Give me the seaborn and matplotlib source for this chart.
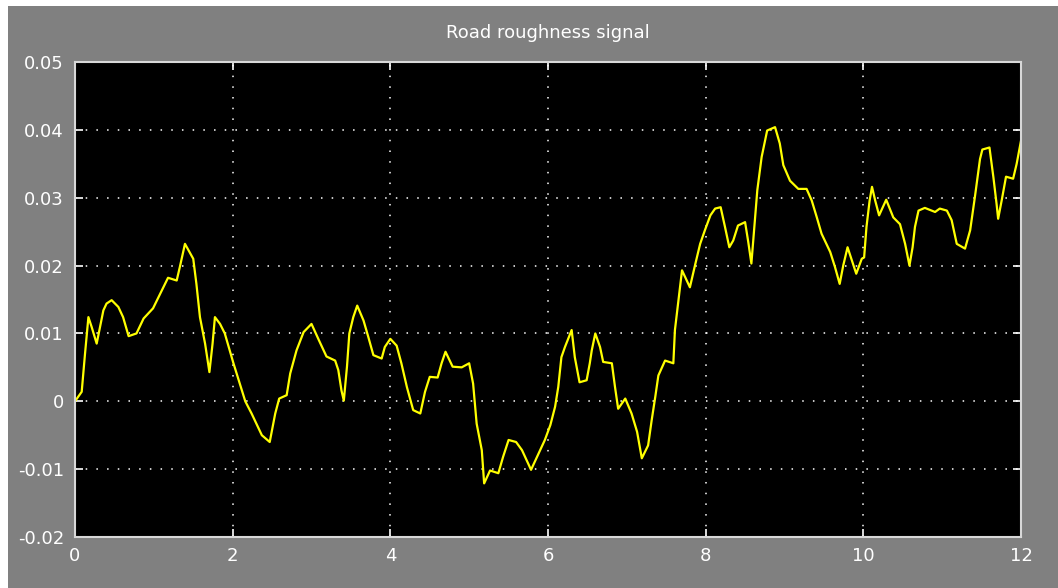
import numpy as np
import pandas as pd
import seaborn as sns
import matplotlib
matplotlib.use('Agg')
import matplotlib.pyplot as plt
from matplotlib.patches import Rectangle

# values
time_s = [0.0, 0.085, 0.127, 0.17, 0.21, 0.275, 0.36, 0.40, 0.465, 0.55,
          0.61, 0.68, 0.78, 0.87, 0.99, 1.10, 1.18, 1.29, 1.33, 1.395,
          1.50, 1.54, 1.585, 1.65, 1.705, 1.745, 1.775, 1.84, 1.90, 2.01,
          2.16, 2.24, 2.37, 2.47, 2.54, 2.59, 2.685, 2.73, 2.81, 2.90,
          3.00, 3.09, 3.19, 3.30, 3.34, 3.38, 3.41, 3.45, 3.48, 3.53,
          3.58, 3.66, 3.72, 3.785, 3.89, 3.93, 4.00, 4.08, 4.14, 4.21,
          4.29, 4.38, 4.44, 4.50, 4.60, 4.65, 4.70, 4.79, 4.905, 5.00,
          5.05, 5.095, 5.16, 5.19, 5.265, 5.37, 5.43, 5.50, 5.595, 5.67,
          5.785, 5.88, 5.96, 6.03, 6.09, 6.13, 6.17, 6.215, 6.30, 6.34,
          6.40, 6.49, 6.53, 6.555, 6.60, 6.66, 6.70, 6.81, 6.85, 6.89,
          6.98, 7.06, 7.13, 7.19, 7.27, 7.315, 7.36, 7.40, 7.485, 7.59,
          7.61, 7.65, 7.70, 7.76, 7.80, 7.87, 7.93, 7.99, 8.06, 8.12,
          8.19, 8.245, 8.30, 8.35, 8.41, 8.50, 8.54, 8.58, 8.61, 8.655,
          8.71, 8.78, 8.88, 8.94, 8.985, 9.07, 9.175, 9.28, 9.345, 9.41,
          9.47, 9.58, 9.64, 9.70, 9.745, 9.80, 9.91, 9.98, 10.01, 10.04,
          10.08, 10.11, 10.15, 10.20, 10.29, 10.38, 10.465, 10.53, 10.585, 10.625,
          10.655, 10.70, 10.78, 10.91, 10.97, 11.06, 11.12, 11.185, 11.29, 11.355,
          11.415, 11.48, 11.51, 11.60, 11.65, 11.69, 11.71, 11.755, 11.81, 11.90,
          11.945, 12.0]

roughness = [0.0, 0.0014, 0.0070, 0.0124, 0.0110, 0.0085, 0.0134, 0.0144, 0.0149, 0.0139,
             0.0124, 0.0096, 0.0100, 0.0122, 0.0137, 0.0163, 0.0182, 0.0178, 0.0198, 0.0232,
             0.0210, 0.0173, 0.0124, 0.0085, 0.0043, 0.0085, 0.0124, 0.0114, 0.0100, 0.0056,
             0.0000, -0.0018, -0.0050, -0.0060, -0.0018, 0.0004, 0.0009, 0.0041, 0.0075, 0.0102,
             0.0114, 0.0091, 0.0066, 0.0060, 0.0046, 0.0016, 0.0001, 0.0051, 0.0100, 0.0124,
             0.0141, 0.0119, 0.0095, 0.0068, 0.0063, 0.0080, 0.0092, 0.0082, 0.0056, 0.0021,
             -0.0013, -0.0018, 0.0014, 0.0036, 0.0035, 0.0056, 0.0073, 0.0051, 0.0050, 0.0056,
             0.0026, -0.0033, -0.0072, -0.0121, -0.0102, -0.0106, -0.0082, -0.0057, -0.0060, -0.0072,
             -0.0101, -0.0077, -0.0057, -0.0035, -0.0008, 0.0021, 0.0065, 0.0080, 0.0105, 0.0065,
             0.0028, 0.0031, 0.0056, 0.0075, 0.0100, 0.0080, 0.0058, 0.0056, 0.0021, -0.0011,
             0.0004, -0.0018, -0.0045, -0.0084, -0.0065, -0.0028, 0.0006, 0.0038, 0.0060, 0.0056,
             0.0105, 0.0144, 0.0193, 0.0178, 0.0168, 0.0203, 0.0232, 0.0252, 0.0274, 0.0284,
             0.0286, 0.0257, 0.0227, 0.0237, 0.0259, 0.0264, 0.0235, 0.0203, 0.0247, 0.0311,
             0.0360, 0.0399, 0.0404, 0.0380, 0.0348, 0.0325, 0.0313, 0.0313, 0.0296, 0.0271,
             0.0247, 0.0220, 0.0198, 0.0173, 0.0200, 0.0227, 0.0188, 0.0210, 0.0212, 0.0257,
             0.0296, 0.0316, 0.0296, 0.0274, 0.0297, 0.0271, 0.0261, 0.0232, 0.0200, 0.0227,
             0.0257, 0.0281, 0.0285, 0.0279, 0.0284, 0.0281, 0.0267, 0.0232, 0.0225, 0.0252,
             0.0301, 0.0357, 0.0371, 0.0374, 0.0330, 0.0291, 0.0269, 0.0296, 0.0331, 0.0328,
             0.0350, 0.0384]

x_ticks = [0, 2, 4, 6, 8, 10, 12]
y_ticks = [-0.02, -0.01, 0, 0.01, 0.02, 0.03, 0.04, 0.05]
y_tick_labels = ['-0.02', '-0.01', '0', '0.01', '0.02', '0.03', '0.04', '0.05']

df = pd.DataFrame({'t': time_s, 'road': roughness})

sns.set_style('dark')
plt.rcParams['font.family'] = ['DejaVu Sans']

fig = plt.figure(figsize=(10.58, 5.88), dpi=100, facecolor='#808080')
# white screenshot margin along top and left edges
fig.patches.append(Rectangle((0, 582 / 588), 1, 6 / 588, transform=fig.transFigure,
                             facecolor='white', edgecolor='none'))
fig.patches.append(Rectangle((0, 0), 8 / 1058, 1, transform=fig.transFigure,
                             facecolor='white', edgecolor='none'))
ax = fig.add_axes([75 / 1058, 51 / 588, 946 / 1058, 475 / 588])
ax.set_facecolor('black')

sns.lineplot(data=df, x='t', y='road', ax=ax, color='#ffff00', linewidth=1.6,
             estimator=None, sort=False)

ax.set_xlim(0, 12)
ax.set_ylim(-0.02, 0.05)
ax.set_xticks(x_ticks)
ax.set_xticklabels([str(v) for v in x_ticks])
ax.set_yticks(y_ticks)
ax.set_yticklabels(y_tick_labels)
ax.grid(True, color='white', linestyle=(0, (1, 6)), linewidth=1.1)
ax.tick_params(colors='white', labelcolor='white', labelsize=13, direction='in',
               length=6, width=1.2, top=True, right=True, left=True, bottom=True)
ax.tick_params(axis='y', pad=8)
ax.tick_params(axis='x', pad=7)
for sp in ax.spines.values():
    sp.set_color('#d8d8d8')
    sp.set_linewidth(1.5)
    sp.set_visible(True)
ax.set_xlabel('')
ax.set_ylabel('')
ax.set_title('Road roughness signal', color='white', fontsize=13, pad=17)

fig.savefig('out.png', dpi=100, facecolor=fig.get_facecolor())
